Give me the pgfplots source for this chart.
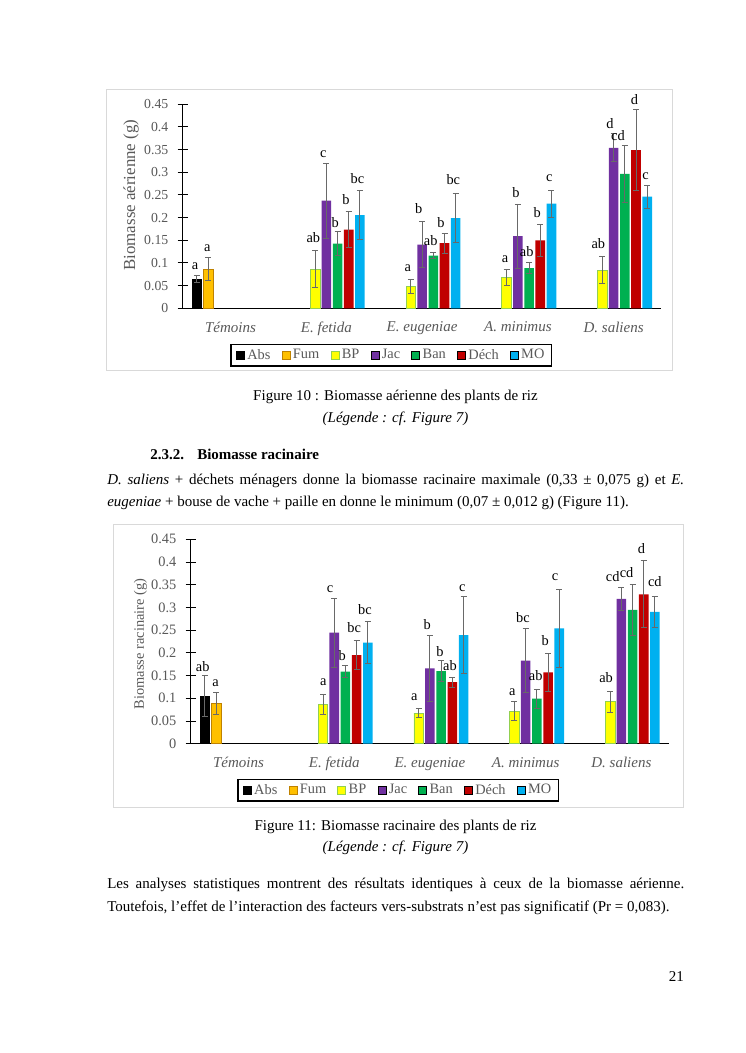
\documentclass[border=0pt]{standalone}
\usepackage{fontspec}
\setmainfont{Liberation Serif}
\usepackage{pgfplots}
\usepackage{pgfplotstable}
\pgfplotsset{compat=1.18}

\definecolor{cAbs}{RGB}{0,0,0}
\definecolor{cFum}{RGB}{255,192,0}
\definecolor{cFumD}{RGB}{191,130,0}
\definecolor{cBP}{RGB}{255,255,0}
\definecolor{cBPD}{RGB}{146,208,80}
\definecolor{cJac}{RGB}{112,48,160}
\definecolor{cBan}{RGB}{0,176,80}
\definecolor{cDech}{RGB}{192,0,0}
\definecolor{cMO}{RGB}{0,176,240}
\definecolor{tgray}{RGB}{89,89,89}
\definecolor{errg}{RGB}{105,105,105}
\definecolor{frameg}{RGB}{217,217,217}

\pgfplotsset{
  mybar/.style={ybar, bar width=0.1, bar shift=0pt, draw=none,
    legend image code/.code={\draw[##1, line width=0.6pt] (0pt,-3.2pt) rectangle (6.4pt,3.2pt);},
    error bars/y dir=both, error bars/y explicit,
    error bars/error mark=-,
    error bars/error bar style={draw=errg, line width=0.8pt},
    error bars/error mark options={rotate=90, draw=errg, line width=0.8pt, mark size=2.4pt}},
  lettres/.style={draw=none, mark=none, forget plot, nodes near coords, point meta=explicit symbolic,
    every node near coord/.append style={anchor=center, font=\fontsize{11.5}{13}\selectfont, text=black, inner sep=0pt}},
  pagechart/.style={scale only axis, xmin=-0.5, xmax=4.5, ymin=0, ymax=0.45,
    axis lines=left, axis line style={-, draw=black, line width=0.8pt},
    ytick={0,0.05,0.1,0.15,0.2,0.25,0.3,0.35,0.4,0.45},
    scaled y ticks=false,
    /pgf/number format/fixed, /pgf/number format/precision=2,
    /pgf/number format/assume math mode=true,
    tick align=center, major tick length=8pt,
    ytick style={draw=black, line width=0.8pt},
    xtick={0,1,2,3,4},
    xticklabels={Témoins, E. fetida, E. eugeniae, A. minimus, D. saliens},
    xtick style={draw=none},
    clip=false,
    legend columns=7, legend cell align=left}
}

\pgfplotstableread{
g abs absE fum fumE bp bpE jac jacE ban banE dech dechE mo moE
0 0.0646 0.008 0.0867 0.025 nan nan nan nan nan nan nan nan nan nan
1 nan nan nan nan 0.086 0.041 0.2374 0.083 0.1425 0.026 0.1734 0.040 0.2058 0.055
2 nan nan nan nan 0.0485 0.0155 0.1403 0.051 0.116 0.0067 0.144 0.022 0.1992 0.055
3 nan nan nan nan 0.0684 0.0176 0.1595 0.0706 0.0889 0.0126 0.150 0.0353 0.2308 0.0295
4 nan nan nan nan 0.0845 0.029 0.354 0.031 0.2963 0.062 0.3492 0.090 0.2462 0.025
}\dataA

\pgfplotstableread{
x y lab
-0.372 0.0918 a
-0.243 0.1337 a
0.864 0.1566 ab
0.968 0.3397 c
1.094 0.1897 b
1.205 0.2389 b
1.324 0.2852 bc
1.850 0.0882 a
1.965 0.2206 b
2.090 0.149 ab
2.198 0.1897 b
2.326 0.2846 bc
2.866 0.108 a
2.981 0.255 b
3.093 0.1257 ab
3.203 0.211 b
3.329 0.2868 c
3.840 0.1418 ab
3.963 0.4066 d
4.045 0.3808 cd
4.217 0.4595 d
4.334 0.2925 c
}\labA

\pgfplotstableread{
g abs absE fum fumE bp bpE jac jacE ban banE dech dechE mo moE
0 0.105 0.045 0.0889 0.024 nan nan nan nan nan nan nan nan nan nan
1 nan nan nan nan 0.0874 0.022 0.2444 0.076 0.1585 0.013 0.1953 0.033 0.2224 0.046
2 nan nan nan nan 0.0676 0.0104 0.166 0.0727 0.160 0.0227 0.1358 0.011 0.2393 0.0843
3 nan nan nan nan 0.0713 0.021 0.1827 0.0705 0.0991 0.021 0.157 0.041 0.254 0.086
4 nan nan nan nan 0.0925 0.0235 0.3186 0.026 0.2944 0.0566 0.329 0.074 0.290 0.035
}\dataB

\pgfplotstableread{
x y lab
-0.375 0.1695 ab
-0.239 0.133 a
0.886 0.1352 a
0.956 0.340 c
1.084 0.193 b
1.209 0.256 bc
1.321 0.2944 bc
1.836 0.102 a
1.972 0.263 b
2.105 0.2026 b
2.209 0.171 ab
2.337 0.342 c
2.860 0.113 a
2.972 0.278 bc
3.105 0.149 ab
3.205 0.226 b
3.307 0.3677 c
3.840 0.1453 ab
3.910 0.3677 cd
4.055 0.3765 cd
4.211 0.4287 d
4.350 0.358 cd
}\labB

\newcommand{\txt}{\fontsize{12}{14}\selectfont}

\begin{document}
\begin{tikzpicture}
\begin{scope}[x=0.8pt, y=-0.8pt]
  \fill[white] (0,0) rectangle (745,1053);
  \path[use as bounding box] (0,0) rectangle (745,1053);
  \draw[frameg, line width=0.8pt] (106,89) rectangle (672,370);
  \draw[frameg, line width=0.8pt] (113,524) rectangle (683,807);
  \coordinate (A1) at (182.7,308.3);
  \coordinate (A2) at (190.7,743.7);
  % texts
  \node[anchor=base, inner sep=0pt, font=\txt] at (395.5,400) {Figure 10 : Biomasse aérienne des plants de riz};
  \node[anchor=base, inner sep=0pt, font=\txt] at (395.5,422) {\itshape (Légende : cf. Figure 7)};
  \node[anchor=base west, inner sep=0pt, font=\txt\bfseries] at (150,459) {2.3.2.};
  \node[anchor=base west, inner sep=0pt, font=\txt\bfseries] at (197,459) {Biomasse racinaire};
  \node[anchor=base west, inner sep=0pt, font=\txt] at (107,484) {\makebox[461.6pt][s]{\textit{D. saliens} + déchets ménagers donne la biomasse racinaire maximale (0,33 ± 0,075 g) et \textit{E.}}};
  \node[anchor=base west, inner sep=0pt, font=\txt] at (107,506) {\textit{eugeniae} + bouse de vache + paille en donne le minimum (0,07 ± 0,012 g) (Figure 11).};
  \node[anchor=base, inner sep=0pt, font=\txt] at (395.5,830) {Figure 11: Biomasse racinaire des plants de riz};
  \node[anchor=base, inner sep=0pt, font=\txt] at (395.5,851.5) {\itshape (Légende : cf. Figure 7)};
  \node[anchor=base west, inner sep=0pt, font=\txt] at (107,888) {\makebox[461.6pt][s]{Les analyses statistiques montrent des résultats identiques à ceux de la biomasse aérienne.}};
  \node[anchor=base west, inner sep=0pt, font=\txt] at (107,911.5) {Toutefois, l’effet de l’interaction des facteurs vers-substrats n’est pas significatif (Pr = 0,083).};
  \node[anchor=base east, inner sep=0pt, font=\txt] at (684,981.5) {21};
\end{scope}

% ---------- Figure 10 ----------
\begin{axis}[pagechart,
  at={(A1)}, anchor=south west,
  width=383.04pt, height=163.2pt,
  yticklabel style={font=\fontsize{11}{13}\selectfont, text=tgray, xshift=-4pt},
  xticklabel style={font=\itshape\fontsize{12}{13}\selectfont, text=tgray, yshift=-3.2pt},
  ylabel={Biomasse aérienne (g)},
  every axis y label/.style={at={(axis description cs:-0.108,0.555)}, rotate=90, anchor=center, font=\fontsize{13.5}{15}\selectfont, text=tgray},
  legend style={at={(axis description cs:0.436,-0.229)}, anchor=center, draw=black, line width=0.9pt, fill=white,
    font=\fontsize{11.5}{13}\selectfont, text=tgray, inner xsep=4pt, inner ysep=2pt,
    /tikz/every even column/.append style={column sep=7pt}},
]
\addplot[mybar, fill=cAbs] table[x expr=\thisrow{g}-0.351, y=abs, y error=absE] {\dataA};
\addlegendentry{Abs}
\addplot[mybar, fill=cFum, draw=cFumD, line width=0.6pt] table[x expr=\thisrow{g}-0.234, y=fum, y error=fumE] {\dataA};
\addlegendentry{Fum}
\addplot[mybar, fill=cBP, draw=cBPD, line width=0.6pt] table[x expr=\thisrow{g}-0.117, y=bp, y error=bpE] {\dataA};
\addlegendentry{BP}
\addplot[mybar, fill=cJac] table[x expr=\thisrow{g}, y=jac, y error=jacE] {\dataA};
\addlegendentry{Jac}
\addplot[mybar, fill=cBan] table[x expr=\thisrow{g}+0.117, y=ban, y error=banE] {\dataA};
\addlegendentry{Ban}
\addplot[mybar, fill=cDech] table[x expr=\thisrow{g}+0.234, y=dech, y error=dechE] {\dataA};
\addlegendentry{Déch}
\addplot[mybar, fill=cMO] table[x expr=\thisrow{g}+0.351, y=mo, y error=moE] {\dataA};
\addlegendentry{MO}
\addplot[lettres] table[x=x, y=y, meta=lab] {\labA};
\end{axis}

% ---------- Figure 11 ----------
\begin{axis}[pagechart,
  at={(A2)}, anchor=south west,
  width=382.8pt, height=163.52pt,
  yticklabel style={font=\fontsize{11.5}{13}\selectfont, text=tgray, xshift=-4pt},
  xticklabel style={font=\itshape\fontsize{12}{13}\selectfont, text=tgray, yshift=-3.2pt},
  ylabel={Biomasse racinaire (g)},
  every axis y label/.style={at={(axis description cs:-0.105,0.488)}, rotate=90, anchor=center, font=\fontsize{11.5}{13}\selectfont, text=tgray},
  legend style={at={(axis description cs:0.434,-0.2265)}, anchor=center, draw=black, line width=0.9pt, fill=white,
    font=\fontsize{11.5}{13}\selectfont, text=tgray, inner xsep=4pt, inner ysep=2pt,
    /tikz/every even column/.append style={column sep=7pt}},
]
\addplot[mybar, fill=cAbs] table[x expr=\thisrow{g}-0.351, y=abs, y error=absE] {\dataB};
\addlegendentry{Abs}
\addplot[mybar, fill=cFum, draw=cFumD, line width=0.6pt] table[x expr=\thisrow{g}-0.234, y=fum, y error=fumE] {\dataB};
\addlegendentry{Fum}
\addplot[mybar, fill=cBP, draw=cBPD, line width=0.6pt] table[x expr=\thisrow{g}-0.117, y=bp, y error=bpE] {\dataB};
\addlegendentry{BP}
\addplot[mybar, fill=cJac] table[x expr=\thisrow{g}, y=jac, y error=jacE] {\dataB};
\addlegendentry{Jac}
\addplot[mybar, fill=cBan] table[x expr=\thisrow{g}+0.117, y=ban, y error=banE] {\dataB};
\addlegendentry{Ban}
\addplot[mybar, fill=cDech] table[x expr=\thisrow{g}+0.234, y=dech, y error=dechE] {\dataB};
\addlegendentry{Déch}
\addplot[mybar, fill=cMO] table[x expr=\thisrow{g}+0.351, y=mo, y error=moE] {\dataB};
\addlegendentry{MO}
\addplot[lettres] table[x=x, y=y, meta=lab] {\labB};
\end{axis}
\end{tikzpicture}
\end{document}
